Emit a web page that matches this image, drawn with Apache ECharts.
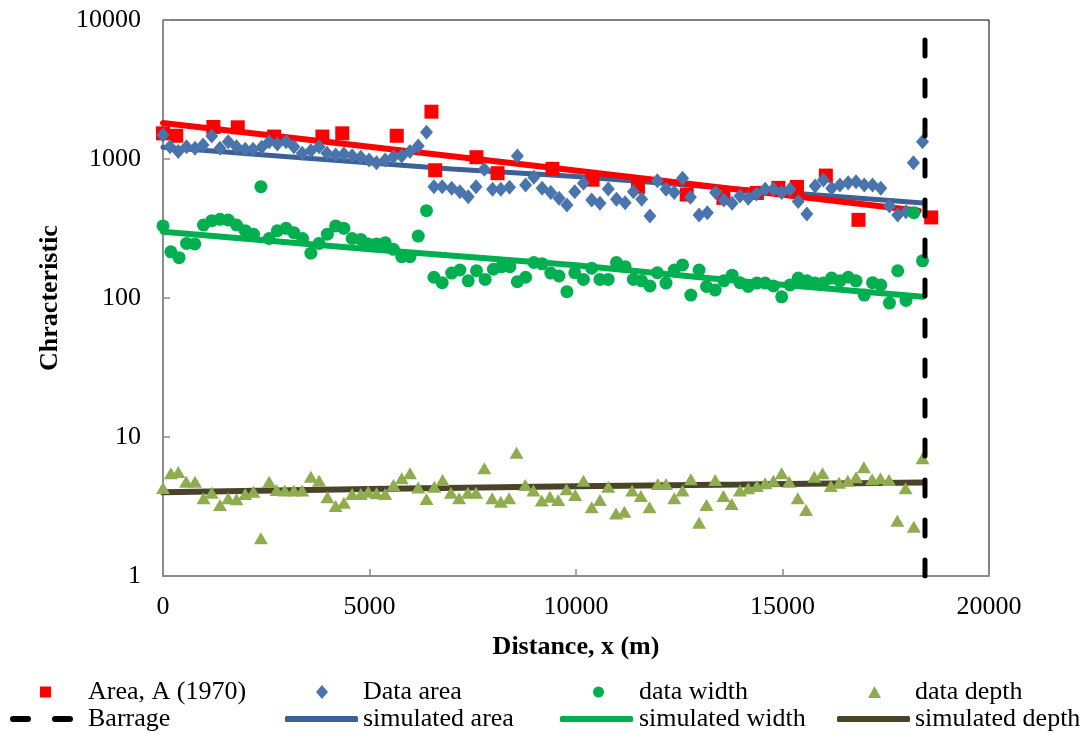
<!DOCTYPE html>
<html>
<head>
<meta charset="utf-8">
<script src="https://cdn.jsdelivr.net/npm/echarts@6.0.0/dist/echarts.min.js"></script>
<style>
  html, body { margin: 0; padding: 0; background: #fff; }
  #chart { width: 1086px; height: 734px; }
</style>
</head>
<body>
<div id="chart"></div>
<script>
// measured data, [distance (m), value]
const area1970 = [[0,1530],[320,1470],[1220,1700],[1810,1690],[2690,1450],[3860,1450],[4340,1530],[5660,1470],
  [6500,2190],[6590,830],[7590,1030],[8100,790],[9430,850],[10400,710],[11500,630],[12680,555],[13570,525],
  [14380,570],[14900,620],[15350,630],[16050,760],[16840,365],[18600,380]];

const dataArea = [[0,1490],[170,1225],[370,1130],[570,1225],[775,1194],[970,1262],[1180,1462],[1380,1194],
  [1580,1332],[1780,1225],[1990,1175],[2180,1175],[2390,1213],[2570,1332],[2770,1282],[2980,1332],[3170,1225],
  [3370,1099],[3580,1148],[3780,1225],[3970,1099],[4180,1069],[4380,1086],[4580,1057],[4790,1028],[4990,984],
  [5170,940],[5380,984],[5580,1040],[5780,1053],[5980,1130],[6180,1240],[6380,1556],[6560,632],[6760,632],
  [6990,615],[7190,582],[7390,536],[7580,632],[7780,843],[7980,605],[8180,605],[8390,626],[8580,1053],[8780,650],
  [8980,738],[9180,615],[9390,573],[9590,521],[9780,467],[9970,582],[10180,668],[10380,507],[10580,480],
  [10780,608],[10980,513],[11190,485],[11390,582],[11590,513],[11790,389],[11970,698],[12180,605],[12380,573],
  [12580,726],[12770,530],[12980,396],[13180,411],[13380,573],[13580,507],[13780,480],[13970,542],[14170,521],
  [14370,559],[14580,605],[14780,605],[14980,573],[15180,605],[15380,494],[15590,402],[15790,640],[15990,706],
  [16190,615],[16390,650],[16590,675],[16780,687],[16980,650],[17180,650],[17380,615],[17590,459],[17790,396],
  [17990,418],[18170,940],[18390,1332]];

const dataWidth = [[0,330],[190,215],[390,195],[570,247],[770,245],[980,335],[1180,360],[1380,368],[1580,364],
  [1780,335],[1990,305],[2190,288],[2370,632],[2570,268],[2770,305],[2980,317],[3170,295],[3380,268],[3580,210],
  [3780,247],[3980,288],[4180,330],[4380,317],[4580,268],[4790,264],[4970,245],[5170,245],[5380,250],[5580,224],
  [5780,198],[5980,198],[6180,279],[6380,425],[6560,141],[6760,129],[6990,151],[7190,159],[7390,133],[7590,157],
  [7800,136],[8000,161],[8200,168],[8400,168],[8580,131],[8780,141],[8980,180],[9180,176],[9390,151],[9590,144],
  [9780,111],[9970,152],[10180,136],[10380,164],[10580,136],[10780,136],[10980,180],[11190,168],[11390,136],
  [11590,133],[11790,122],[11970,152],[12180,128],[12380,159],[12580,173],[12780,105],[12980,159],[13160,121],
  [13370,114],[13580,133],[13780,146],[13970,129],[14170,121],[14380,128],[14580,128],[14780,122],[14980,102],
  [15180,124],[15380,139],[15590,133],[15790,128],[15990,128],[16190,139],[16390,133],[16590,141],[16780,133],
  [16980,105],[17180,129],[17380,124],[17590,92],[17790,157],[17990,96],[18180,411],[18390,185]];

const dataDepth = [[0,4.3],[190,5.48],[370,5.6],[560,4.76],[775,4.76],[980,3.62],[1180,3.97],[1380,3.24],
  [1580,3.62],[1780,3.56],[1990,3.89],[2190,4.04],[2370,1.87],[2570,4.76],[2750,4.16],[2950,4.13],[3170,4.13],
  [3370,4.13],[3580,5.18],[3780,4.85],[3980,3.68],[4180,3.19],[4380,3.37],[4580,3.89],[4790,3.89],[4970,4.04],
  [5170,3.94],[5380,3.89],[5580,4.52],[5780,5.04],[5980,5.48],[6180,4.34],[6380,3.58],[6570,4.39],[6770,4.91],
  [6970,3.97],[7170,3.62],[7380,3.97],[7580,3.97],[7780,5.96],[7970,3.62],[8180,3.42],[8380,3.62],[8560,7.71],
  [8770,4.52],[8970,4.13],[9170,3.49],[9370,3.72],[9570,3.52],[9770,4.21],[9980,3.83],[10180,4.85],[10380,3.12],
  [10580,3.52],[10780,4.39],[10970,2.82],[11170,2.9],[11360,4.13],[11570,3.77],[11780,3.12],[11980,4.59],
  [12180,4.59],[12380,3.62],[12580,4.13],[12780,4.97],[12980,2.42],[13160,3.24],[13370,4.91],[13570,3.77],
  [13770,3.3],[13970,4.13],[14170,4.27],[14380,4.44],[14580,4.64],[14780,4.85],[14980,5.48],[15160,4.76],
  [15370,3.62],[15570,2.99],[15770,5.18],[15970,5.48],[16170,4.44],[16370,4.69],[16580,4.85],[16780,5.13],
  [16970,6.05],[17170,4.97],[17370,5.04],[17580,4.91],[17780,2.5],[17980,4.27],[18180,2.26],[18390,7.03]];

// fitted / simulated curves
const areaTrend = [[0,1815],[9000,895],[18300,425]];
const simArea = [[0,1215],[3500,1013],[7000,848],[10000,747],[14000,606],[18400,482]];
const simWidth = [[0,300],[5000,224],[10000,172],[14000,132],[18400,102]];
const simDepth = [[0,4.0],[5000,4.22],[10000,4.42],[14000,4.55],[18400,4.7]];
const barrage = [[18450,1],[18450,7800]];

const xTicks = { min: 0, max: 20000, step: 5000 };
const yTicks = { min: 1, max: 10000 };

const FONT = 'Liberation Serif, Times New Roman, serif';

// one legend block per entry so each sits where it does in the original
const legendSlots = [
  { name: 'Area, A (1970)', icon: 'rect', left: 40, top: 679, w: 11, h: 11, pad: 32 },
  { name: 'Data area', icon: 'diamond', left: 316, top: 679, w: 12, h: 14, pad: 30 },
  { name: 'data width', icon: 'circle', left: 593, top: 679, w: 11, h: 11, pad: 30 },
  { name: 'data depth', icon: 'triangle', left: 868, top: 679, w: 13, h: 12, pad: 29 },
  { name: 'Barrage', icon: 'path://M3,0H18A3,3 0 0 1 18,6H3A3,3 0 0 1 3,0Z M45,0H60A3,3 0 0 1 60,6H45A3,3 0 0 1 45,0Z', left: 10, top: 706, w: 63, h: 6, pad: 10 },
  { name: 'simulated area', icon: 'roundRect', left: 285, top: 706, w: 73, h: 6, pad: 0 },
  { name: 'simulated width', icon: 'roundRect', left: 560, top: 706, w: 73, h: 6, pad: 1 },
  { name: 'simulated depth', icon: 'roundRect', left: 837, top: 706, w: 73, h: 6, pad: 0 }
];

let chart = echarts.init(document.getElementById('chart'));

let legends = legendSlots.map(function (s) {
  return {
    data: [{ name: s.name, icon: s.icon }],
    left: s.left,
    top: s.top,
    padding: 0,
    itemGap: 0,
    itemWidth: s.w,
    itemHeight: s.h,
    selectedMode: false,
    itemStyle: { borderWidth: 0 },
    textStyle: { fontFamily: FONT, fontSize: 26, color: '#000', padding: [0, 0, 0, s.pad] }
  };
});

let lineSeries = function (name, data, color, width) {
  return {
    name: name,
    type: 'line',
    data: data,
    color: color,
    symbol: 'none',
    showSymbol: false,
    z: 2,
    lineStyle: { color: color, width: width, cap: 'round' }
  };
};

let dotSeries = function (name, data, color, symbol, size) {
  return {
    name: name,
    type: 'scatter',
    data: data,
    color: color,
    symbol: symbol,
    symbolSize: size,
    z: 3,
    itemStyle: { color: color, opacity: 1 }
  };
};

let option = {
  animation: false,
  backgroundColor: '#fff',
  grid: { left: 163, right: 97, top: 20, bottom: 158, show: true, borderColor: '#000', borderWidth: 1 },
  legend: legends,
  xAxis: {
    type: 'value',
    min: xTicks.min,
    max: xTicks.max,
    interval: xTicks.step,
    name: 'Distance, x (m)',
    nameLocation: 'middle',
    nameGap: 58,
    nameTextStyle: { fontFamily: FONT, fontSize: 26, fontWeight: 'bold', color: '#000' },
    axisLine: { lineStyle: { color: '#8c8c8c', width: 2 } },
    axisTick: { inside: true, length: 7, lineStyle: { color: '#8c8c8c', width: 1.5 } },
    splitLine: { show: false },
    axisLabel: {
      margin: 18, fontFamily: FONT, fontSize: 26, color: '#000',
      formatter: function (v) { return String(v); }
    }
  },
  yAxis: {
    type: 'log',
    logBase: 10,
    min: yTicks.min,
    max: yTicks.max,
    name: 'Chracteristic',
    nameLocation: 'middle',
    nameGap: 100,
    nameTextStyle: { fontFamily: FONT, fontSize: 26, fontWeight: 'bold', color: '#000' },
    axisLine: { show: true, lineStyle: { color: '#8c8c8c', width: 2 } },
    axisTick: { show: true, inside: true, length: 7, lineStyle: { color: '#8c8c8c', width: 1.5 } },
    splitLine: { show: false },
    minorTick: { show: false },
    axisLabel: {
      margin: 22, fontFamily: FONT, fontSize: 26, color: '#000',
      formatter: function (v) { return String(Math.round(v)); }
    }
  },
  series: [
    lineSeries('simulated area', simArea, '#3d6194', 5),
    lineSeries('Area trend', areaTrend, '#ff0000', 6),
    lineSeries('simulated width', simWidth, '#00b050', 6),
    lineSeries('simulated depth', simDepth, '#494429', 6),
    dotSeries('Area, A (1970)', area1970, '#ff0000', 'rect', 14),
    dotSeries('Data area', dataArea, '#4a74ac', 'diamond', [13, 15]),
    dotSeries('data width', dataWidth, '#00b050', 'circle', 13),
    dotSeries('data depth', dataDepth, '#8fac4f', 'triangle', [14, 12]),
    {
      name: 'Barrage',
      type: 'line',
      data: barrage,
      color: '#000',
      symbol: 'none',
      showSymbol: false,
      z: 4,
      lineStyle: { color: '#000', width: 5, type: [16, 24], cap: 'round' }
    }
  ]
};

chart.setOption(option);
</script>
</body>
</html>
